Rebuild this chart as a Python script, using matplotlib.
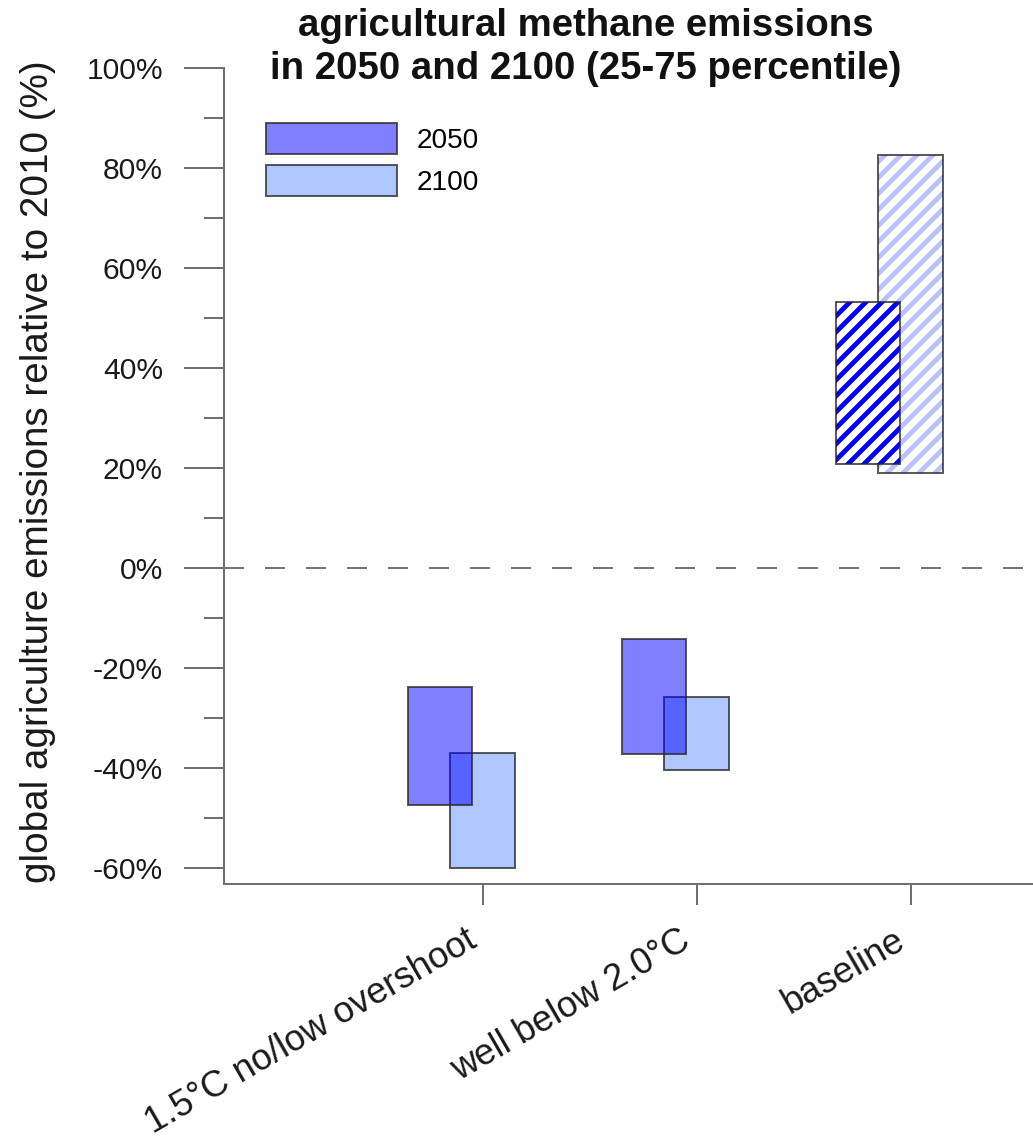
import matplotlib
matplotlib.use("Agg")
import matplotlib.pyplot as plt
from matplotlib.patches import Patch
import numpy as np

# ---- data ----
categories = ["1.5°C no/low overshoot", "well below 2.0°C", "baseline"]
p25_2050 = [-47.3, -37.2, 20.9]
p75_2050 = [-23.7, -14.1, 53.1]
p25_2100 = [-59.9, -40.3, 19.1]
p75_2100 = [-36.9, -25.7, 82.5]
hatched = [False, False, True]
yticks_major = [-60, -40, -20, 0, 20, 40, 60, 80, 100]
yticks_minor = [-50, -30, -10, 10, 30, 50, 70, 90]
series_labels = ["2050", "2100"]

title_lines = ["agricultural methane emissions",
               "in 2050 and 2100 (25-75 percentile)"]
ylabel = "global agriculture emissions relative to 2010 (%)"

# ---- style ----
plt.rcParams['font.family'] = ['Liberation Sans', 'DejaVu Sans']
plt.rcParams['hatch.linewidth'] = 2.4
plt.rcParams['lines.scale_dashes'] = False

DPI = 144
W, H = 1033, 1148
fig = plt.figure(figsize=(W / DPI, H / DPI), dpi=DPI)
ax = fig.add_axes([224 / W, 1 - 884 / H, 1 - 224 / W, (884 - 68) / H])

c2050 = (0.0, 0.0, 1.0, 0.5)
c2100 = (0.38, 0.57, 1.0, 0.5)
edge = (0.15, 0.15, 0.15, 0.75)
hatch2050 = (0.0, 0.0, 1.0)
hatch2100 = (0.72, 0.76, 1.0)
grey = '#707070'

x = np.arange(1, len(categories) + 1)
width = 0.30
offset = -0.20

b25_50 = np.array(p25_2050); b75_50 = np.array(p75_2050)
b25_00 = np.array(p25_2100); b75_00 = np.array(p75_2100)

for i in range(len(categories)):
    if hatched[i]:
        ax.bar(x[i], b75_00[i] - b25_00[i], bottom=b25_00[i], width=width,
               facecolor='white', edgecolor=hatch2100, hatch='///', linewidth=0, zorder=2)
        ax.bar(x[i], b75_00[i] - b25_00[i], bottom=b25_00[i], width=width,
               facecolor='none', edgecolor=edge, linewidth=1.0, zorder=2.1)
        ax.bar(x[i] + offset, b75_50[i] - b25_50[i], bottom=b25_50[i], width=width,
               facecolor='white', edgecolor=hatch2050, hatch='///', linewidth=0, zorder=3)
        ax.bar(x[i] + offset, b75_50[i] - b25_50[i], bottom=b25_50[i], width=width,
               facecolor='none', edgecolor=edge, linewidth=1.0, zorder=3.1)
    else:
        ax.bar(x[i], b75_00[i] - b25_00[i], bottom=b25_00[i], width=width,
               facecolor=c2100, edgecolor=edge, linewidth=1.0, zorder=2)
        ax.bar(x[i] + offset, b75_50[i] - b25_50[i], bottom=b25_50[i], width=width,
               facecolor=c2050, edgecolor=edge, linewidth=1.0, zorder=3)

ax.axhline(0, color='#555555', lw=0.8, dashes=(10, 10.5), zorder=1)

ax.set_xlim(-0.208, 3.572)
ax.set_ylim(-63.2, 100)

for s in ['top', 'right']:
    ax.spines[s].set_visible(False)
for s in ['left', 'bottom']:
    ax.spines[s].set_color(grey)
    ax.spines[s].set_linewidth(1.0)

ax.set_yticks(yticks_major)
ax.set_yticklabels([f"{v}%" for v in yticks_major])
ax.set_yticks(yticks_minor, minor=True)
ax.tick_params(axis='y', which='major', length=20, width=1.0, color=grey,
               pad=10.5, labelsize=15, labelcolor='#1a1a1a')
ax.tick_params(axis='y', which='minor', length=10, width=1.0, color=grey)
ax.yaxis.get_major_ticks()[3].tick1line.set_linewidth(0.5)

ax.set_xticks(x)
ax.set_xticklabels(categories, rotation=30, ha='right')
ax.tick_params(axis='x', which='major', length=10.5, width=1.0, color=grey,
               pad=9, labelsize=18.2, labelcolor='#1a1a1a')

fig.text(38 / W, 1 - 472 / H, ylabel, rotation=90, ha='center', va='center',
         fontsize=19.3, color='#1a1a1a')
fig.text(586 / W, 1 - 36 / H, title_lines[0], ha='center', va='baseline',
         fontsize=19.2, fontweight='bold', color='#111111')
fig.text(586 / W, 1 - 79 / H, title_lines[1], ha='center', va='baseline',
         fontsize=19.2, fontweight='bold', color='#111111')

handles = [Patch(facecolor=c2050, edgecolor=edge, linewidth=1.0),
           Patch(facecolor=c2100, edgecolor=edge, linewidth=1.0)]
ax.legend(handles, series_labels, loc='upper left',
          bbox_to_anchor=(266 / W, 1 - 123 / H), bbox_transform=fig.transFigure,
          frameon=False, fontsize=14, handlelength=4.68, handleheight=1.3,
          handletextpad=0.7, labelspacing=0.42, borderpad=0, borderaxespad=0)

fig.savefig('out.png', dpi=DPI)
